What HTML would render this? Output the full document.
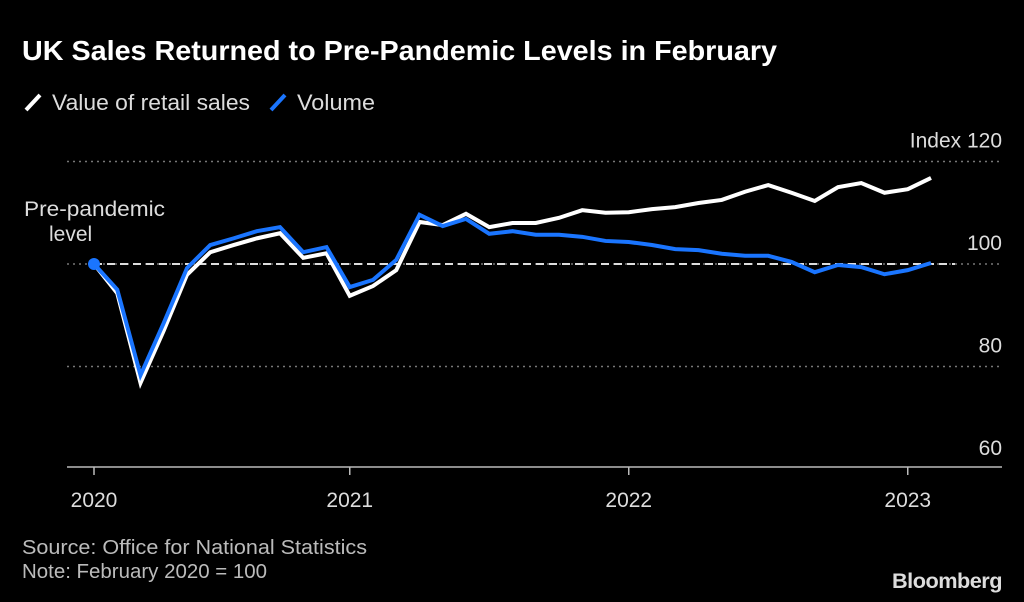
<!DOCTYPE html>
<html><head><meta charset="utf-8"><style>
body{margin:0;background:#000;width:1024px;height:602px;overflow:hidden;font-family:"Liberation Sans",sans-serif;}
svg{display:block}
</style></head><body>
<svg id="chart" width="1024" height="602" xmlns="http://www.w3.org/2000/svg">
<rect width="1024" height="602" fill="#000"/>
<text x="22" y="60" fill="#fff" font-size="28" font-weight="bold" textLength="755" lengthAdjust="spacingAndGlyphs">UK Sales Returned to Pre-Pandemic Levels in February</text>
<g>
<line x1="26" y1="110" x2="40" y2="95" stroke="#fff" stroke-width="4"/>
<text x="52" y="110" fill="#ddd" font-size="22" textLength="198" lengthAdjust="spacingAndGlyphs">Value of retail sales</text>
<line x1="271" y1="110" x2="285" y2="95" stroke="#1a75ff" stroke-width="4"/>
<text x="297" y="110" fill="#ddd" font-size="22" textLength="78" lengthAdjust="spacingAndGlyphs">Volume</text>
</g>
<g id="grid"></g>
<g id="series"></g>
<text x="24" y="216" fill="#ddd" font-size="21" textLength="141" lengthAdjust="spacingAndGlyphs">Pre-pandemic</text>
<text x="49" y="241" fill="#ddd" font-size="21">level</text>
<text x="22" y="554" fill="#bbb" font-size="20" textLength="345" lengthAdjust="spacingAndGlyphs">Source: Office for National Statistics</text>
<text x="22" y="578" fill="#bbb" font-size="20" textLength="245" lengthAdjust="spacingAndGlyphs">Note: February 2020 = 100</text>
<text x="1002" y="588" fill="#ddd" font-size="21" font-weight="bold" text-anchor="end" letter-spacing="-0.5" textLength="110" lengthAdjust="spacingAndGlyphs">Bloomberg</text>
</svg>
<script>
const yTicks=[60,80,100,120];
const yearLabels=["2020","2021","2022","2023"];
const yearMonthIdx=[0,11,23,35];
const valueSeries=[100,94.3,76.8,87,97.9,102.3,103.7,105,106,101.2,102.1,93.8,95.7,98.8,108.2,107.6,109.8,107.2,108,108,109,110.5,110,110.1,110.7,111.1,111.9,112.5,114.1,115.4,113.9,112.3,115,115.8,113.9,114.6,116.8];
const volumeSeries=[100,95,78.3,88.5,99.2,103.7,105,106.4,107.2,102.3,103.3,95.5,96.9,100.8,109.6,107.4,108.8,105.9,106.4,105.7,105.7,105.3,104.5,104.3,103.7,102.9,102.7,102,101.6,101.6,100.4,98.4,99.8,99.4,98,98.8,100.2];
const NS="http://www.w3.org/2000/svg";
const xs=i=>94+i*23.25;
const ys=v=>264-(v-100)*5.125;
const grid=document.getElementById('grid'),ser=document.getElementById('series');
function mk(tag,attrs,parent){const e=document.createElementNS(NS,tag);for(const k in attrs)e.setAttribute(k,attrs[k]);parent.appendChild(e);return e;}
yTicks.forEach(t=>{
  const y=ys(t);
  if(t!==60){const l=mk('line',{x1:67,x2:1002,y1:y,y2:y,stroke:'#777','stroke-width':1.5,'stroke-dasharray':'2 4'},grid);
  
  }
  const tx=mk('text',{x:1002,y:y-14,fill:'#ddd','font-size':21,'text-anchor':'end'},grid);
  tx.textContent=t===120?'Index 120':String(t);
  
  
});
const base=mk('line',{x1:94,x2:955,y1:ys(100),y2:ys(100),stroke:'#ddd','stroke-width':2,'stroke-dasharray':'8 5'},grid);


const ax=mk('line',{x1:67,x2:1002,y1:467,y2:467,stroke:'#bbb','stroke-width':1.5},grid);


yearLabels.forEach((lab,k)=>{
  const x=xs(yearMonthIdx[k]);
  const tk=mk('line',{x1:x,x2:x,y1:467,y2:475,stroke:'#bbb','stroke-width':1.5},grid);
  
  
  const t=mk('text',{x:x,y:507,fill:'#ddd','font-size':21,'text-anchor':'middle'},grid);
  t.textContent=lab;
  
  
});
function line(data,color,name){
  const p=mk('polyline',{points:data.map((v,i)=>xs(i)+','+ys(v)).join(' '),fill:'none',stroke:color,'stroke-width':4,'stroke-linejoin':'miter'},ser);
  
  
}
line(valueSeries,'#fff','value-line');
line(volumeSeries,'#1a75ff','volume-line');
const dot=mk('circle',{cx:xs(0),cy:ys(volumeSeries[0]),r:6,fill:'#1a75ff'},ser);


</script>
</body></html>
